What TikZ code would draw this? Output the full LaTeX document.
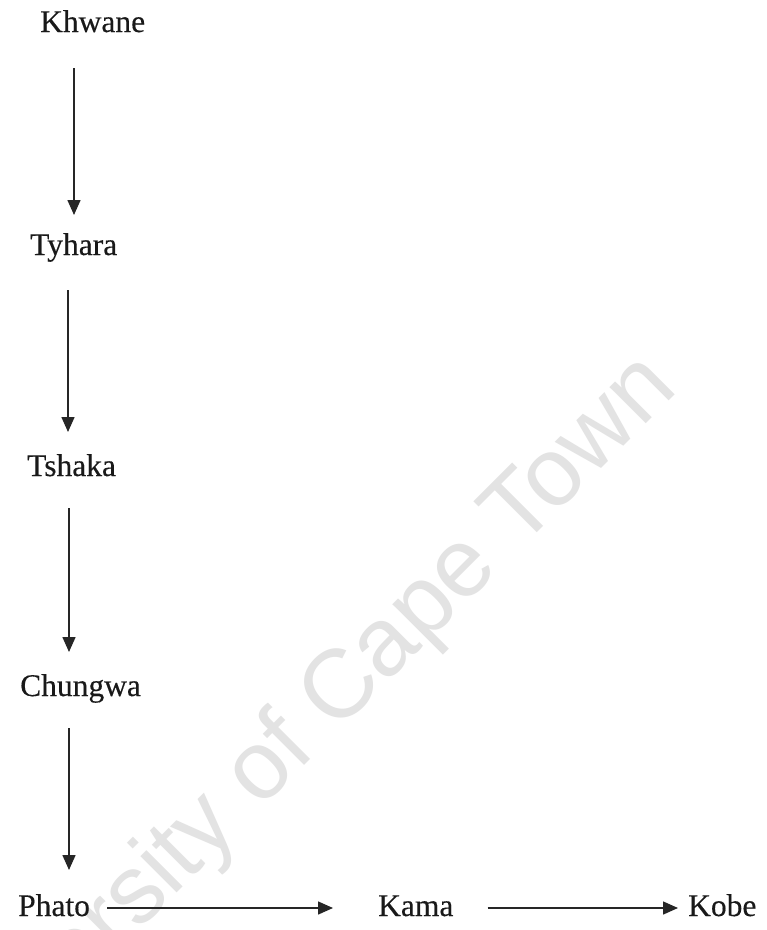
\documentclass[tikz,border=0pt]{standalone}
\usepackage{fontspec}
\setmainfont{Liberation Serif}
\newfontfamily\lblfont[FakeBold=0.3]{Liberation Serif}
\newfontfamily\wmfont{Liberation Sans}
\usetikzlibrary{arrows.meta,calc}
\tikzset{
  lbl/.style={inner sep=0pt, anchor=base west, font=\lblfont\fontsize{31.5}{34}\selectfont, text=black!90},
  arr/.style={draw=black!85, line width=1.5pt, -{Triangle[width=13pt,length=15pt]}},
  wm/.style={inner sep=0pt, anchor=base west, rotate=45, text=black!11, font=\wmfont\fontsize{97}{100}\selectfont}
}
\begin{document}
\begin{tikzpicture}[x=1pt,y=-1pt]
\useasboundingbox (0,0) rectangle (767,930);
\fill[white] (0,0) rectangle (767,930);
\begin{scope}
\clip (0,0) rectangle (767,930);
\node[wm] (wmark) at (-60,1130) {University of Cape Town};
\end{scope}
\node[lbl] (khwane) at (40,32) {Khwane};
\node[lbl] (tyhara) at (30,255) {Tyhara};
\node[lbl] (tshaka) at (27,476) {Tshaka};
\node[lbl] (chungwa) at (20,696) {Chungwa};
\node[lbl] (phato) at (18,916) {Phato};
\node[lbl] (kama) at (378,916) {Kama};
\node[lbl] (kobe) at (688,916) {Kobe};
\draw[arr] ($(khwane.base west)+(34,36)$) -- ($(tyhara.base west)+(44,-40)$);
\draw[arr] ($(tyhara.base west)+(38,35)$) -- ($(tshaka.base west)+(41,-44)$);
\draw[arr] ($(tshaka.base west)+(42,32)$) -- ($(chungwa.base west)+(49,-44)$);
\draw[arr] ($(chungwa.base west)+(49,32)$) -- ($(phato.base west)+(51,-46)$);
\draw[arr] ($(phato.base east)+(17,-8)$) -- ($(kama.base west)+(-45,-8)$);
\draw[arr] ($(kama.base east)+(34,-8)$) -- ($(kobe.base west)+(-10,-8)$);
\end{tikzpicture}
\end{document}
